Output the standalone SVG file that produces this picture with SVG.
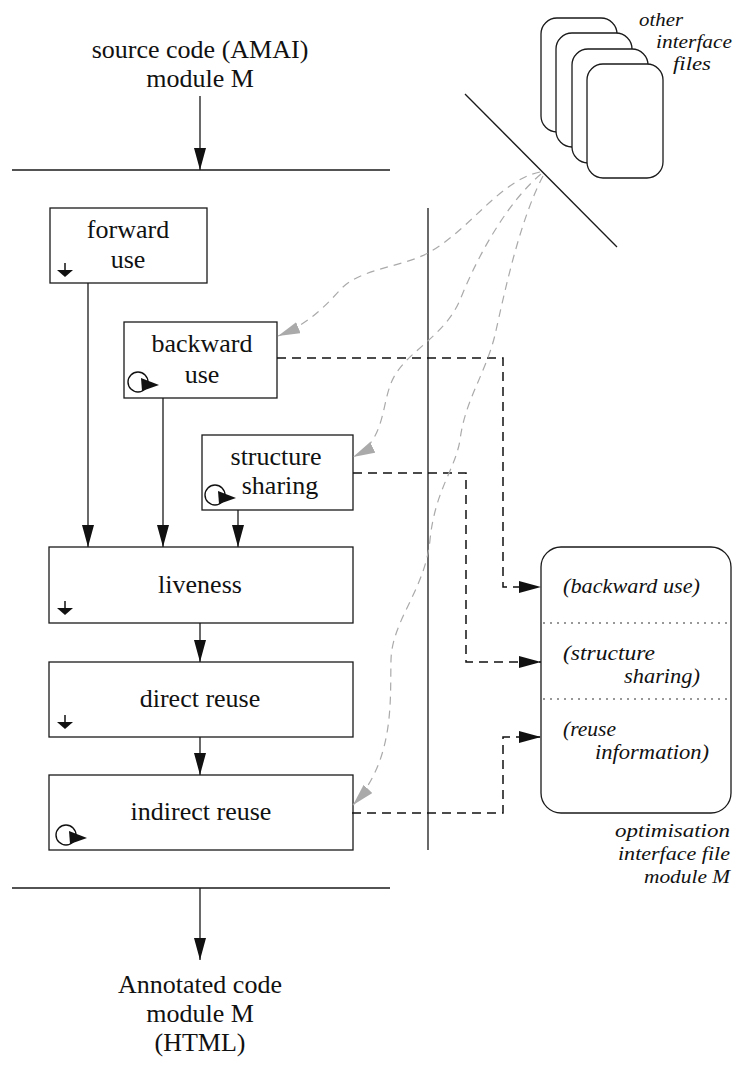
<svg xmlns="http://www.w3.org/2000/svg" width="737" height="1068" viewBox="0 0 737 1068">
  <style>
    .ln { stroke: #1a1a1a; stroke-width: 1.3; fill: none; }
    .box { stroke: #1a1a1a; stroke-width: 1.3; fill: #fff; }
    .dash { stroke: #111; stroke-width: 1.5; fill: none; stroke-dasharray: 9 6; }
    .grey { stroke: #aaa; stroke-width: 1.2; fill: none; stroke-dasharray: 8 6; }
    .dot { stroke: #333; stroke-width: 1.2; stroke-dasharray: 2 5; }
    .t { font-family: "Liberation Serif", serif; font-size: 26px; fill: #111; text-anchor: middle; }
    .it { font-family: "Liberation Serif", serif; font-style: italic; font-size: 20px; fill: #111; }
    .sm { font-size: 19px; }
  </style>
  <defs>
    <marker id="ah" markerUnits="userSpaceOnUse" markerWidth="23" markerHeight="12" refX="22" refY="6" orient="auto">
      <path d="M0,0 L22,6 L0,12 z" fill="#111"/>
    </marker>
    <marker id="gh" markerUnits="userSpaceOnUse" markerWidth="23" markerHeight="12" refX="22" refY="6" orient="auto">
      <path d="M0,0 L22,6 L0,12 z" fill="#aaa"/>
    </marker>
    <!-- small "forward" glyph: down arrow, origin at the tip -->
    <g id="down">
      <line x1="0" y1="-14" x2="0" y2="-7" stroke="#111" stroke-width="1.5"/>
      <path d="M-8,-7 L8,-7 L0,0 z" fill="#111"/>
    </g>
    <!-- small "fixpoint" glyph: circle with arrow, origin at the circle centre -->
    <g id="loop">
      <circle cx="0" cy="0" r="10" fill="none" stroke="#111" stroke-width="1.4"/>
      <path d="M3,-4 L21,3 L4,9 z" fill="#111"/>
    </g>
  </defs>

  <!-- input / output rules -->
  <line class="ln" x1="12" y1="170" x2="390" y2="170"/>
  <line class="ln" x1="12" y1="888" x2="390" y2="888"/>
  <line class="ln" x1="428" y1="208" x2="428" y2="850"/>
  <line class="ln" x1="465" y1="94" x2="617" y2="247"/>

  <text class="t" x="200" y="58">source code (AMAI)</text>
  <text class="t" x="200" y="87">module M</text>
  <text class="t" x="200" y="993">Annotated code</text>
  <text class="t" x="200" y="1022">module M</text>
  <text class="t" x="200" y="1051">(HTML)</text>

  <!-- other interface files -->
  <g id="other-files">
    <rect class="box" x="541" y="18" width="76" height="114" rx="16"/>
    <rect class="box" x="556" y="33" width="76" height="114" rx="16"/>
    <rect class="box" x="572" y="49" width="76" height="114" rx="16"/>
    <rect class="box" x="587" y="64" width="76" height="114" rx="16"/>
    <text class="it sm" x="639" y="26" textLength="44" lengthAdjust="spacingAndGlyphs">other</text>
    <text class="it sm" x="656" y="48" textLength="76" lengthAdjust="spacingAndGlyphs">interface</text>
    <text class="it sm" x="673" y="70" textLength="38" lengthAdjust="spacingAndGlyphs">files</text>
  </g>

  <g id="forward-use">
    <rect class="box" x="50" y="208" width="157" height="75"/>
    <text class="t" x="128" y="238">forward</text>
    <text class="t" x="128" y="268">use</text>
    <use href="#down" x="65" y="277"/>
  </g>

  <g id="backward-use">
    <rect class="box" x="124" y="322" width="153" height="76"/>
    <text class="t" x="202" y="352">backward</text>
    <text class="t" x="202" y="383">use</text>
    <use href="#loop" x="138" y="382"/>
  </g>

  <g id="structure-sharing">
    <rect class="box" x="202" y="435" width="151" height="75"/>
    <text class="t" x="276" y="465">structure</text>
    <text class="t" x="280" y="494">sharing</text>
    <use href="#loop" x="215" y="495"/>
  </g>

  <g id="liveness">
    <rect class="box" x="49" y="547" width="304" height="76"/>
    <text class="t" x="200" y="593">liveness</text>
    <use href="#down" x="65" y="615"/>
  </g>

  <g id="direct-reuse">
    <rect class="box" x="49" y="662" width="304" height="75"/>
    <text class="t" x="200" y="707">direct reuse</text>
    <use href="#down" x="65" y="729"/>
  </g>

  <g id="indirect-reuse">
    <rect class="box" x="49" y="775" width="304" height="75"/>
    <text class="t" x="201" y="820">indirect reuse</text>
    <use href="#loop" x="66" y="835"/>
  </g>

  <g id="interface-file">
    <rect class="box" x="541" y="547" width="190" height="266" rx="20"/>
    <line class="dot" x1="543" y1="623" x2="730" y2="623"/>
    <line class="dot" x1="543" y1="699" x2="730" y2="699"/>
    <text class="it" x="563" y="593" textLength="137" lengthAdjust="spacingAndGlyphs">(backward use)</text>
    <text class="it" x="563" y="660" textLength="92" lengthAdjust="spacingAndGlyphs">(structure</text>
    <text class="it" x="624" y="683" textLength="76" lengthAdjust="spacingAndGlyphs">sharing)</text>
    <text class="it" x="563" y="736" textLength="53" lengthAdjust="spacingAndGlyphs">(reuse</text>
    <text class="it" x="595" y="759" textLength="114" lengthAdjust="spacingAndGlyphs">information)</text>
    <text class="it sm" x="615" y="837" textLength="115" lengthAdjust="spacingAndGlyphs">optimisation</text>
    <text class="it sm" x="618" y="860" textLength="112" lengthAdjust="spacingAndGlyphs">interface file</text>
    <text class="it sm" x="644" y="883" textLength="86" lengthAdjust="spacingAndGlyphs">module M</text>
  </g>

  <g id="connectors">
    <line class="ln" x1="200" y1="96" x2="200" y2="170" marker-end="url(#ah)"/>
    <line class="ln" x1="200" y1="888" x2="200" y2="960" marker-end="url(#ah)"/>
    <line class="ln" x1="88" y1="283" x2="88" y2="547" marker-end="url(#ah)"/>
    <line class="ln" x1="163" y1="398" x2="163" y2="547" marker-end="url(#ah)"/>
    <line class="ln" x1="238" y1="510" x2="238" y2="547" marker-end="url(#ah)"/>
    <line class="ln" x1="200" y1="623" x2="200" y2="662" marker-end="url(#ah)"/>
    <line class="ln" x1="200" y1="737" x2="200" y2="775" marker-end="url(#ah)"/>

    <path class="dash" d="M277,358 H503 V587 H541" marker-end="url(#ah)"/>
    <path class="dash" d="M353,473 H466 V662 H541" marker-end="url(#ah)"/>
    <path class="dash" d="M352,813 H503 V737 H541" marker-end="url(#ah)"/>

    <path class="grey" d="M540,172 C500,180 470,230 428,253 C400,268 360,268 340,290 C320,312 305,325 278,336" marker-end="url(#gh)"/>
    <path class="grey" d="M541,174 C510,200 480,250 460,300 C445,335 410,350 395,375 C380,400 388,440 353,457" marker-end="url(#gh)"/>
    <path class="grey" d="M543,176 C520,220 505,290 495,335 C485,375 465,400 460,440 C455,470 435,490 430,540 C425,590 392,620 391,660 C390,700 395,760 353,805" marker-end="url(#gh)"/>
  </g>
</svg>
